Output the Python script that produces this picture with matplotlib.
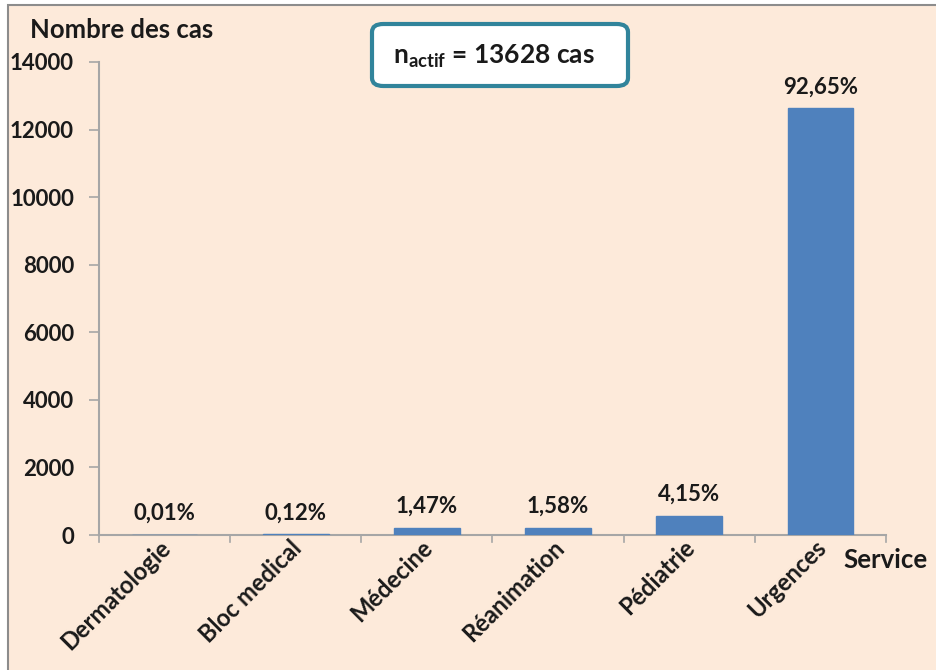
import matplotlib.pyplot as plt
import matplotlib.transforms as mtransforms
from matplotlib.patches import Rectangle, FancyBboxPatch

plt.rcParams['font.family'] = ['Lato', 'DejaVu Sans']
plt.rcParams['mathtext.fontset'] = 'custom'
plt.rcParams['mathtext.rm'] = 'Lato:bold'
plt.rcParams['mathtext.it'] = 'Lato:bold'
plt.rcParams['mathtext.bf'] = 'Lato:bold'

services = ['Dermatologie', 'Bloc medical', 'Médecine', 'Réanimation', 'Pédiatrie', 'Urgences']
pourcentages = [0.01, 0.12, 1.47, 1.58, 4.15, 92.65]
n_actif = 13628
cas = [p / 100 * n_actif for p in pourcentages]
yticks = [0, 2000, 4000, 6000, 8000, 10000, 12000, 14000]

bg = '#FDEADA'
bar_color = '#4F81BD'
axis_gray = '#A6A6A6'
txt = '#1A1A1A'

fig = plt.figure(figsize=(9.37, 6.70), dpi=100)
fig.patch.set_facecolor('white')

# peach chart area with a grey frame on the left and top
frame = Rectangle((8 / 937, -0.05), 1.1, 1 - 5 / 670 + 0.05, transform=fig.transFigure,
                  facecolor=bg, edgecolor='#8C8C8C', linewidth=1.5, zorder=-1)
fig.patches.append(frame)

ax = fig.add_axes([99 / 937, 1 - 535 / 670, (886 - 99) / 937, (535 - 62) / 670])
ax.set_facecolor('none')

x = list(range(len(services)))
ax.bar(x, cas, width=0.5, color=bar_color, edgecolor=bar_color, linewidth=1.0, zorder=3)

for xi, c, p in zip(x, cas, pourcentages):
    label = '{:.2f}%'.format(p).replace('.', ',')
    ax.annotate(label, (xi, c), xytext=(0, 8), textcoords='offset points',
                ha='center', va='bottom', fontsize=16, fontweight='bold', color=txt)

ax.set_xlim(-0.5, len(services) - 0.5)
ax.set_ylim(0, 14000)
ax.set_yticks(yticks)
ax.set_yticklabels([str(v) for v in yticks], fontsize=16, fontweight='bold', color=txt)
ax.set_xticks(x)
ax.set_xticklabels(services, rotation=45, ha='right', va='top', rotation_mode='anchor',
                   fontsize=17, fontweight='bold', color=txt)
ax.tick_params(axis='x', length=0, pad=5)
ax.tick_params(axis='y', length=7, width=1.2, color=axis_gray, pad=11)

# nudge the slanted category names a little up and to the left
shift = mtransforms.ScaledTranslation(-6 / 100, 6 / 100, fig.dpi_scale_trans)
for lbl in ax.get_xticklabels():
    lbl.set_transform(lbl.get_transform() + shift)

# small tick marks between categories on the x axis
for b in [i - 0.5 for i in range(len(services) + 1)]:
    ax.plot([b, b], [0, -220], color=axis_gray, linewidth=1.2, clip_on=False, zorder=2)

for side in ['top', 'right']:
    ax.spines[side].set_visible(False)
for side in ['left', 'bottom']:
    ax.spines[side].set_color(axis_gray)
    ax.spines[side].set_linewidth(1.5)

fig.text(30 / 937, 1 - 30 / 670, 'Nombre des cas', fontsize=18.5, fontweight='bold',
         ha='left', va='center', color=txt)
fig.text(843 / 937, 1 - 560 / 670, 'Service', fontsize=18.5, fontweight='bold',
         ha='left', va='center', color=txt)

box = FancyBboxPatch((372 / 937, 1 - 86 / 670), 256 / 937, 62 / 670,
                     boxstyle='round,pad=0,rounding_size=0.012', transform=fig.transFigure,
                     facecolor='white', edgecolor='#31849B', linewidth=3, zorder=5)
fig.patches.append(box)
fig.text(494 / 937, 1 - 56 / 670, r'n$_{actif}$ = 13628 cas', fontsize=19, fontweight='bold',
         ha='center', va='center', color=txt, zorder=6)

fig.savefig('out.png', dpi=100, facecolor=fig.get_facecolor())
